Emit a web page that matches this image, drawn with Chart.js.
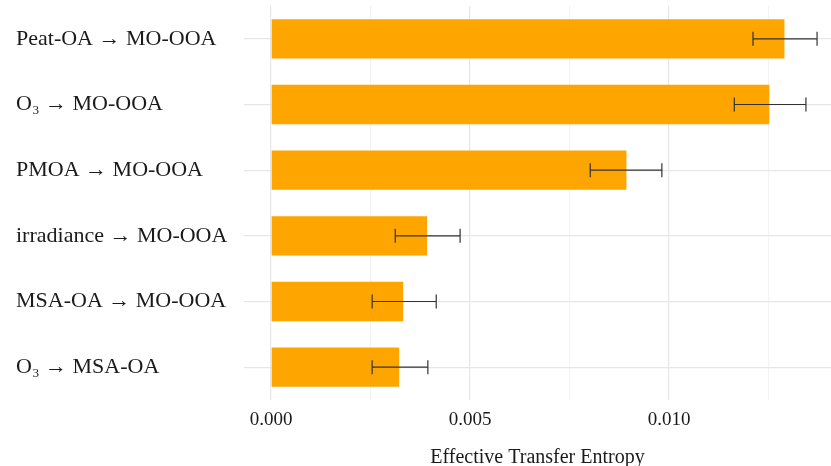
<!DOCTYPE html>
<html>
<head>
<meta charset="utf-8">
<script src="https://cdn.jsdelivr.net/npm/chart.js@4"></script>
<style>
body { margin: 0; background: #fff; }
#wrap { width: 831px; height: 466px; }
</style>
</head>
<body>
<div id="wrap"><canvas id="graficoTE"></canvas></div>
<script>
// categorias e valores
const categorias = ['Peat-OA → MO-OOA', 'O₃ → MO-OOA', 'PMOA → MO-OOA', 'irradiance → MO-OOA', 'MSA-OA → MO-OOA', 'O₃ → MSA-OA'];
const valores = [0.01290, 0.01252, 0.00893, 0.00392, 0.00332, 0.00322];
const erroMin = [0.01211, 0.01164, 0.00802, 0.00312, 0.00254, 0.00254];
const erroMax = [0.01372, 0.01344, 0.00982, 0.00475, 0.00415, 0.00394];
const ticksX = [0, 0.0025, 0.005, 0.0075, 0.01, 0.0125];
const ticksRotulo = ['0.000', '', '0.005', '', '0.010', ''];

const fonte = "'Liberation Serif', 'Times New Roman', serif";

// desenha as barras de erro por cima das barras
const barrasErro = {
    id: 'barrasErro',
    afterDatasetsDraw(chart) {
        const ctx = chart.ctx;
        const x = chart.scales.x;
        const meta = chart.getDatasetMeta(0);
        ctx.save();
        ctx.strokeStyle = '#333333';
        ctx.lineWidth = 1.2;
        meta.data.forEach((bar, i) => {
            const y = bar.y;
            const x1 = x.getPixelForValue(erroMin[i]);
            const x2 = x.getPixelForValue(erroMax[i]);
            ctx.beginPath();
            ctx.moveTo(x1, y); ctx.lineTo(x2, y);
            ctx.moveTo(x1, y - 7); ctx.lineTo(x1, y + 7);
            ctx.moveTo(x2, y - 7); ctx.lineTo(x2, y + 7);
            ctx.stroke();
        });
        ctx.restore();
    }
};

const ctxTE = document.getElementById('graficoTE').getContext('2d');
const graficoTE = new Chart(ctxTE, {
    type: 'bar',
    data: {
        labels: categorias,
        datasets: [{
            data: valores,
            backgroundColor: '#FFA500',
            barPercentage: 0.6,
            categoryPercentage: 1.0
        }]
    },
    options: {
        indexAxis: 'y',
        responsive: true,
        maintainAspectRatio: false,
        animation: false,
        layout: {
            padding: { left: 16, right: 0, top: 6, bottom: 0 }
        },
        scales: {
            x: {
                min: -0.00068,
                max: 0.01407,
                afterBuildTicks: (scale) => {
                    scale.ticks = ticksX.map(v => ({ value: v }));
                },
                afterFit: (scale) => { scale.height = 66; },
                grid: {
                    color: (c) => (c.index % 2 === 0 ? '#e6e6e6' : '#f3f3f3'),
                    lineWidth: 1.2,
                    drawTicks: false
                },
                border: { display: false },
                ticks: {
                    color: '#1a1a1a',
                    font: { family: fonte, size: 19 },
                    padding: 9,
                    maxRotation: 0,
                    autoSkip: false,
                    callback: (v, i) => ticksRotulo[i]
                },
                title: {
                    display: true,
                    text: 'Effective Transfer Entropy',
                    color: '#1a1a1a',
                    font: { family: fonte, size: 20 },
                    padding: { top: 14, bottom: -4 }
                }
            },
            y: {
                grid: {
                    color: '#e6e6e6',
                    lineWidth: 1.2,
                    offset: false,
                    drawTicks: false
                },
                border: { display: false },
                afterFit: (scale) => {
                    scale.width = 228;
                    scale.paddingTop = 0;
                    scale.paddingBottom = 0;
                },
                ticks: {
                    color: '#1a1a1a',
                    font: { family: fonte, size: 22 },
                    crossAlign: 'far',
                    padding: 12
                }
            }
        },
        plugins: {
            legend: { display: false },
            tooltip: { enabled: false }
        }
    },
    plugins: [barrasErro]
});
</script>
</body>
</html>
